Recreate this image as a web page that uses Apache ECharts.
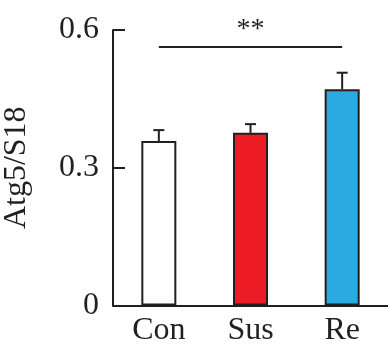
<!DOCTYPE html>
<html>
<head>
<meta charset="utf-8">
<script src="https://cdn.jsdelivr.net/npm/echarts@6/dist/echarts.min.js"></script>
<style>
  html, body { margin: 0; padding: 0; background: #fff; }
  #main { width: 388px; height: 354px; }
</style>
</head>
<body>
<div id="main"></div>
<script>
var categories = ['Con', 'Sus', 'Re'];
var means = [0.358, 0.376, 0.471];
var errs = [0.024, 0.019, 0.036];
var barColors = ['#ffffff', '#ed1c24', '#29abe2'];
var yTicks = [0, 0.3, 0.6];
var sigLevel = 0.563;
var sigText = '**';

var ink = '#231f20';
var font = '"Liberation Serif", "Times New Roman", serif';

var myChart = echarts.init(document.getElementById('main'));

function getBarData(){
	var d = [];
	for (var i = 0; i < means.length; i++){
		d.push({ value: means[i], itemStyle: { color: barColors[i] } });
	}
	return d;
}

function getErrData(){
	var d = [];
	for (var i = 0; i < means.length; i++){
		d.push([i, means[i], means[i] + errs[i]]);
	}
	return d;
}

var option = {
	animation: false,
	grid: { left: 113, right: 0, top: 30, bottom: 48.5, containLabel: false, outerBoundsMode: 'none' },
	xAxis: {
		type: 'category',
		data: categories,
		axisLine: { lineStyle: { color: ink, width: 2 } },
		axisTick: { show: false },
		axisLabel: { color: ink, fontFamily: font, fontSize: 32, margin: 9 }
	},
	yAxis: {
		type: 'value',
		min: yTicks[0],
		max: yTicks[yTicks.length - 1],
		interval: yTicks[1] - yTicks[0],
		name: 'Atg5/S18',
		nameLocation: 'middle',
		nameGap: 80,
		nameTextStyle: { color: ink, fontFamily: font, fontSize: 32 },
		axisLine: { show: true, lineStyle: { color: ink, width: 2 } },
		axisTick: { show: true, inside: true, length: 12, lineStyle: { color: ink, width: 2 } },
		splitLine: { show: false },
		axisLabel: {
			color: ink, fontFamily: font, fontSize: 32, margin: 14,
			formatter: function (v) { return String(v); }
		}
	},
	series: [
		{
			type: 'bar',
			data: getBarData(),
			barWidth: 35,
			itemStyle: { borderColor: ink, borderWidth: 2 },
			markLine: {
				silent: true,
				symbol: ['none', 'none'],
				lineStyle: { color: ink, width: 2, type: 'solid' },
				label: {
					show: true, position: 'middle', formatter: sigText,
					color: ink, fontFamily: font, fontSize: 28, distance: 3
				},
				data: [[
					{ coord: [0, sigLevel] },
					{ coord: [2, sigLevel] }
				]]
			}
		},
		{
			type: 'custom',
			data: getErrData(),
			z: 1,
			renderItem: function (params, api) {
				var x = api.coord([api.value(0), api.value(1)]);
				var top = api.coord([api.value(0), api.value(2)]);
				var half = 5.5;
				return {
					type: 'group',
					children: [
						{ type: 'line', shape: { x1: x[0], y1: x[1], x2: top[0], y2: top[1] },
						  style: { stroke: ink, lineWidth: 2 } },
						{ type: 'line', shape: { x1: top[0] - half, y1: top[1], x2: top[0] + half, y2: top[1] },
						  style: { stroke: ink, lineWidth: 2 } }
					]
				};
			}
		}
	]
};

myChart.setOption(option);
</script>
</body>
</html>
